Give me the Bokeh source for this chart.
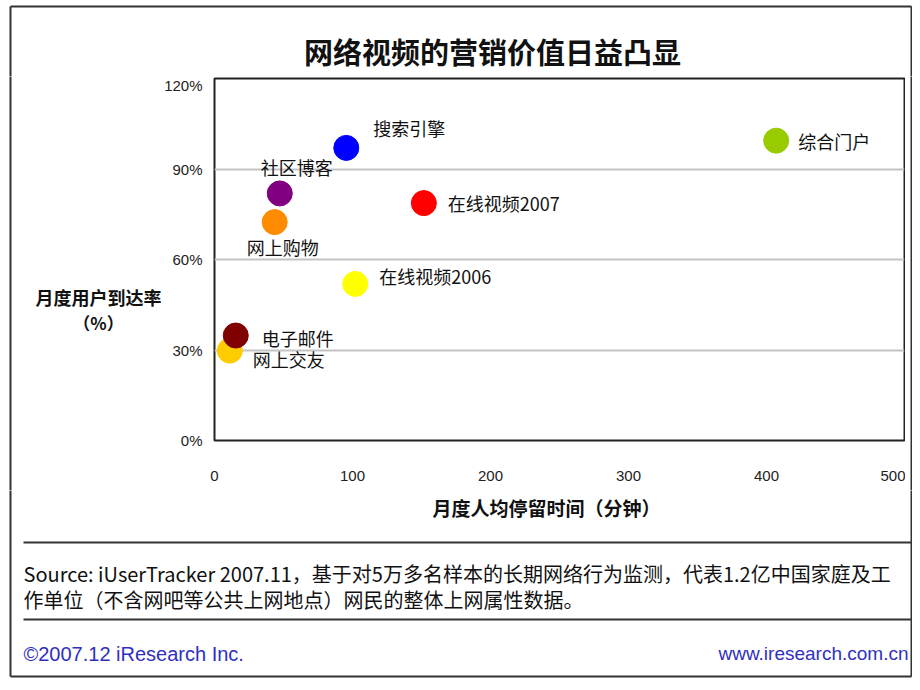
from bokeh.plotting import figure
from bokeh.layouts import column, row
from bokeh.models import ColumnDataSource, FixedTicker, Range1d
from bokeh.embed import file_html
from bokeh.resources import INLINE
from bokeh.core.properties import value

# ---------------- data ----------------
categories = ["综合门户", "搜索引擎", "社区博客", "在线视频2007", "网上购物",
              "在线视频2006", "网上交友", "电子邮件"]
minutes = [407, 95.5, 47.3, 151.7, 43.6, 102, 11.1, 15.4]       # 月度人均停留时间（分钟）
reach = [99.4, 97.0, 81.9, 78.7, 72.4, 51.9, 29.8, 34.8]         # 月度用户到达率（%）
x_ticks = [0, 100, 200, 300, 400, 500]
x_tick_labels = ["0", "100", "200", "300", "400", "500"]
y_ticks = [0, 30, 60, 90, 120]
y_tick_labels = ["0%", "30%", "60%", "90%", "120%"]

title_text = "网络视频的营销价值日益凸显"
x_title = "月度人均停留时间（分钟）"
y_title = ["月度用户到达率", "（%）"]
source_lines = ["Source: iUserTracker 2007.11，基于对5万多名样本的长期网络行为监测，代表1.2亿中国家庭及工",
                "作单位（不含网吧等公共上网地点）网民的整体上网属性数据。"]
footer_left = "©2007.12 iResearch Inc."
footer_right = "www.iresearch.com.cn"

# ---------------- styles ----------------
colors = ["#99cc00", "#0000ff", "#800080", "#ff0000", "#ff8c00", "#ffff00", "#ffcc00", "#800000"]
label_dx = [22, 27, -19, 24, -28, 24, 23, 26]
label_dy = [0, -20, -26, 0, 25, -8, 8, 2]

CJK = "Noto Sans CJK SC"
LAT = "Liberation Sans"
BORDER = "#333333"
W, H = 912, 682
TOP_H, MID_H = 76, 414
LEFT_W, RIGHT_W = 161, 7
BOT_H = H - TOP_H - MID_H


def deco(width, height):
    """A figure whose frame is the whole canvas, in local pixel units (y down)."""
    f = figure(width=width, height=height, output_backend="svg", toolbar_location=None,
               x_range=Range1d(0, width), y_range=Range1d(height, 0),
               x_axis_type=None, y_axis_type=None, min_border=0,
               background_fill_color="white", border_fill_color="white")
    f.outline_line_color = None
    f.grid.visible = False
    f.frame_align = False
    return f


def txt(f, x, y, text, size, font=CJK, style="normal", align="left", color="#111111"):
    f.text(x=[x], y=[y], text=[text], text_font=value(font), text_font_size=size,
           text_font_style=style, text_align=align, text_baseline="middle",
           text_color=color)


def vline(f, x, y0, y1):
    f.segment(x0=[x], y0=[y0], x1=[x], y1=[y1], line_color=BORDER, line_width=2)


def hline(f, y, x0, x1, width=2):
    f.segment(x0=[x0], y0=[y], x1=[x1], y1=[y], line_color=BORDER, line_width=width)


# ---------------- header ----------------
head = deco(W, TOP_H)
hline(head, 6, 10, 911)
vline(head, 10, 6, TOP_H + 1)
vline(head, 911, 6, TOP_H + 1)
txt(head, 492, 50, title_text, "29px", style="bold", align="center")

# ---------------- left (y-axis title) ----------------
left = deco(LEFT_W, MID_H)
vline(left, 10, -1, MID_H + 1)
txt(left, 98, 220, y_title[0], "18px", style="bold", align="center")
txt(left, 98, 246, y_title[1], "17px", style="bold", align="center")

# ---------------- right edge ----------------
right = deco(RIGHT_W, MID_H)
vline(right, 6, -1, MID_H + 1)

# ---------------- main chart ----------------
MAIN_W = W - LEFT_W - RIGHT_W
p = figure(width=MAIN_W, height=MID_H, output_backend="svg", toolbar_location=None,
           x_range=Range1d(0, 500), y_range=Range1d(0, 120),
           min_border_left=213 - LEFT_W, min_border_right=1, min_border_top=2, min_border_bottom=50,
           background_fill_color="white", border_fill_color="white")
p.frame_align = False
p.outline_line_color = "#222222"
p.outline_line_width = 2

p.xgrid.visible = False
p.ygrid.ticker = FixedTicker(ticks=y_ticks)
p.ygrid.grid_line_color = "#c4c4c4"
p.ygrid.grid_line_width = 2

for ax, ticks, labels in ((p.xaxis[0], x_ticks, x_tick_labels), (p.yaxis[0], y_ticks, y_tick_labels)):
    ax.ticker = FixedTicker(ticks=ticks)
    ax.major_label_overrides = {t: l for t, l in zip(ticks, labels)}
    ax.axis_line_color = None
    ax.major_tick_line_color = None
    ax.minor_tick_line_color = None
    ax.major_tick_out = 0
    ax.major_tick_in = 0
    ax.major_label_text_font = LAT
    ax.major_label_text_font_size = "15px"
    ax.major_label_text_color = "#222222"
p.xaxis.major_label_standoff = 30
p.yaxis.major_label_standoff = 12

src = ColumnDataSource(dict(x=minutes, y=reach, name=categories, color=colors,
                            dx=label_dx, dy=label_dy))
p.scatter(x="x", y="y", source=src, size=25, fill_color="color", line_color="color",
          marker="circle")
p.text(x="x", y="y", text="name", x_offset="dx", y_offset="dy", source=src,
       text_font=value(CJK), text_font_size="18px", text_color="#111111",
       text_baseline="middle", text_align="left")

# ---------------- bottom (x title, source, footer) ----------------
bot = deco(W, BOT_H)
vline(bot, 10, -1, 186)
vline(bot, 911, -1, 186)
hline(bot, 186, 10, 911)
txt(bot, 546, 17, x_title, "19px", style="bold", align="center")
hline(bot, 52, 23, 911)
txt(bot, 23, 83, source_lines[0], "20px")
txt(bot, 23, 109, source_lines[1], "20px")
hline(bot, 129, 23, 911)
txt(bot, 23, 163, footer_left, "20px", font=LAT, color="#3030c0")
txt(bot, 908, 163, footer_right, "19px", font=LAT, color="#3030c0", align="right")

layout = column(head, row(left, p, right, spacing=0), bot, spacing=0)
open("out.html", "w").write(file_html(layout, INLINE))
